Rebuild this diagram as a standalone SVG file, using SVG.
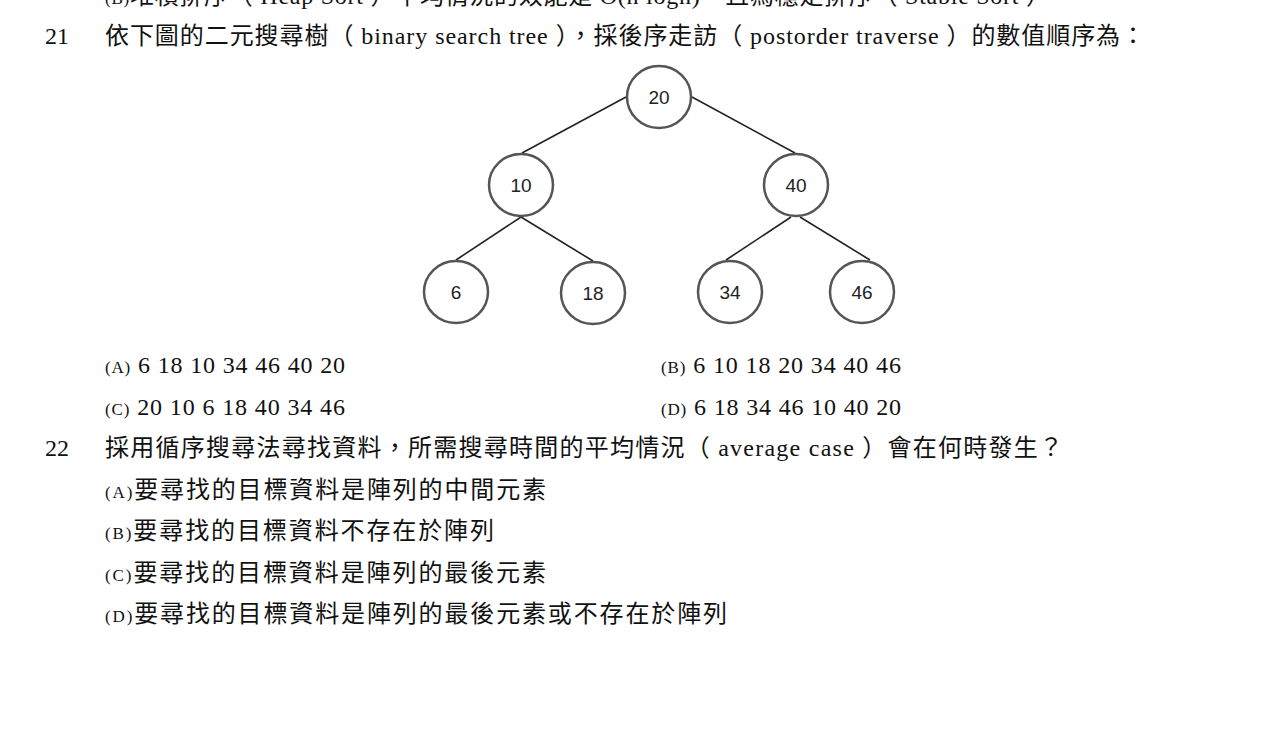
<svg xmlns="http://www.w3.org/2000/svg" width="1274" height="755" viewBox="0 0 1274 755">
<style>
.t{font-family:"Liberation Serif","Noto Sans CJK TC",serif;font-size:24px;fill:#111}
.m{font-size:17px}
.n text{font-family:"Liberation Sans",sans-serif;font-size:19px;text-anchor:middle;fill:#222}
#edges line{stroke:#222;stroke-width:1.6}
</style>
<rect width="1274" height="755" fill="#fff"/>
<text class="t" x="105" y="4" textLength="945" lengthAdjust="spacing"><tspan class="m">(B)</tspan>堆積排序（ Heap Sort ）平均情況的效能是 O(n logn)，且為穩定排序（ Stable Sort ）</text>
<text class="t" x="45" y="44">21</text>
<text class="t" x="105" y="44" textLength="1040" lengthAdjust="spacing">依下圖的二元搜尋樹（ binary search tree ），採後序走訪（ postorder traverse ）的數值順序為：</text>
<g id="edges">
<line x1="626" y1="97" x2="522" y2="153"/>
<line x1="692" y1="97" x2="795" y2="153"/>
<line x1="521" y1="217" x2="456" y2="260"/>
<line x1="521" y1="217" x2="593" y2="261"/>
<line x1="791" y1="217" x2="726" y2="260"/>
<line x1="800" y1="217" x2="870" y2="260"/>
</g>
<g id="n20" class="n"><ellipse cx="659" cy="97" rx="32" ry="31" fill="#fff" stroke="#555" stroke-width="2.5"/><text x="659" y="104">20</text></g>
<g id="n10" class="n"><ellipse cx="521" cy="185" rx="32" ry="31" fill="#fff" stroke="#555" stroke-width="2.5"/><text x="521" y="192">10</text></g>
<g id="n40" class="n"><ellipse cx="796" cy="185" rx="32" ry="31" fill="#fff" stroke="#555" stroke-width="2.5"/><text x="796" y="192">40</text></g>
<g id="n6" class="n"><ellipse cx="456" cy="292" rx="32" ry="31" fill="#fff" stroke="#555" stroke-width="2.5"/><text x="456" y="299">6</text></g>
<g id="n18" class="n"><ellipse cx="593" cy="293" rx="32" ry="31" fill="#fff" stroke="#555" stroke-width="2.5"/><text x="593" y="300">18</text></g>
<g id="n34" class="n"><ellipse cx="730" cy="292" rx="32" ry="31" fill="#fff" stroke="#555" stroke-width="2.5"/><text x="730" y="299">34</text></g>
<g id="n46" class="n"><ellipse cx="862" cy="292" rx="32" ry="31" fill="#fff" stroke="#555" stroke-width="2.5"/><text x="862" y="299">46</text></g>
<text class="t" x="105" y="373" textLength="240" lengthAdjust="spacing"><tspan class="m">(A)</tspan> 6 18 10 34 46 40 20</text>
<text class="t" x="661" y="373" textLength="240" lengthAdjust="spacing"><tspan class="m">(B)</tspan> 6 10 18 20 34 40 46</text>
<text class="t" x="105" y="415" textLength="240" lengthAdjust="spacing"><tspan class="m">(C)</tspan> 20 10 6 18 40 34 46</text>
<text class="t" x="661" y="415" textLength="240" lengthAdjust="spacing"><tspan class="m">(D)</tspan> 6 18 34 46 10 40 20</text>
<text class="t" x="45" y="456">22</text>
<text class="t" x="105" y="456" textLength="958" lengthAdjust="spacing">採用循序搜尋法尋找資料，所需搜尋時間的平均情況（ average case ）會在何時發生？</text>
<text class="t" x="105" y="498" textLength="441" lengthAdjust="spacing"><tspan class="m">(A)</tspan>要尋找的目標資料是陣列的中間元素</text>
<text class="t" x="105" y="539" textLength="389" lengthAdjust="spacing"><tspan class="m">(B)</tspan>要尋找的目標資料不存在於陣列</text>
<text class="t" x="105" y="581" textLength="441" lengthAdjust="spacing"><tspan class="m">(C)</tspan>要尋找的目標資料是陣列的最後元素</text>
<text class="t" x="105" y="622" textLength="622" lengthAdjust="spacing"><tspan class="m">(D)</tspan>要尋找的目標資料是陣列的最後元素或不存在於陣列</text>
</svg>
